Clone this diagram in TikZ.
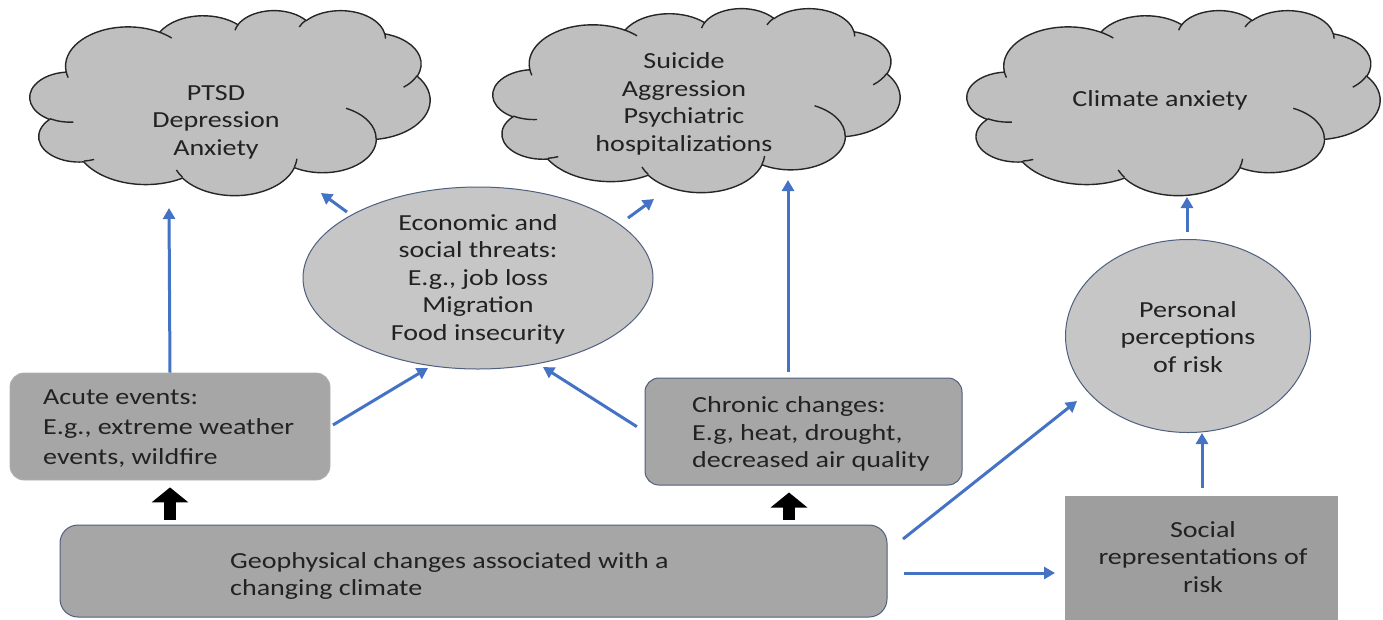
\documentclass[tikz,border=0pt]{standalone}
\usepackage{fontspec}
\setmainfont{Carlito}[FakeStretch=1.22]
\usetikzlibrary{shapes.geometric,arrows.meta}
\definecolor{cloudfill}{HTML}{BFBFBF}
\definecolor{ellfill}{HTML}{C6C6C6}
\definecolor{boxfill}{HTML}{A6A6A6}
\definecolor{edgeblue}{HTML}{4F5F7F}
\definecolor{arrowblue}{HTML}{4472C4}
\definecolor{txtcol}{HTML}{222222}
\tikzset{carc/.style n args={4}{insert path={arc[start angle={atan2(#1*sin(#3),#2*cos(#3))},
  delta angle={mod(atan2(#1*sin(#3+#4),#2*cos(#3+#4))-atan2(#1*sin(#3),#2*cos(#3))+720,360)},
  x radius=#1, y radius=#2]}}}
\newcommand\drawcloudshape[4]{%
\begin{scope}[shift={(#1,#2)},xscale=#3,yscale=#4]
 \draw[cloudline,fill=cloudfill] (39.00,143.70)
  [carc={67.53}{91.90}{-190.4875}{123.7805}]
  [carc={53.33}{72.67}{-144.1024}{89.9452}]
  [carc={43.65}{59.45}{-145.8079}{99.7230}]
  [carc={48.57}{65.95}{-130.9861}{117.2417}]
  [carc={53.33}{72.73}{-78.7089}{109.0269}]
  [carc={67.75}{92.20}{-46.2673}{130.2690}]
  [carc={57.85}{78.67}{0.6250}{114.0333}]
  [carc={67.52}{92.15}{22.4516}{115.1726}]
  [carc={77.20}{105.43}{66.2426}{75.7110}]
  [carc={43.60}{59.18}{-274.9421}{146.7356}]
  [carc={43.45}{59.45}{-246.8285}{152.5189}] -- cycle;
 \draw[cloudline]
  (46.93,261.77) [carc={43.45}{59.45}{86.7420}{26.4295}]
  (69.28,348.99) [carc={43.60}{59.18}{73.6105}{11.4475}]
  (164.78,390.90) [carc={67.52}{92.15}{137.6242}{14.0811}]
  (288.27,347.51) [carc={67.52}{92.15}{6.4533}{15.9984}]
  (341.29,229.54) [carc={57.85}{78.67}{-70.2924}{70.9174}]
  (417.98,153.54) [carc={53.33}{72.73}{30.3180}{27.7515}]
  (383.24,54.26) [carc={48.57}{65.95}{-13.7443}{14.8589}]
  (290.78,39.52) [carc={48.57}{65.95}{-149.1815}{18.1954}]
  (221.41,47.20) [carc={43.65}{59.45}{-163.4943}{17.6864}]
  (140.00,51.92) [carc={67.53}{91.90}{-66.7070}{12.3194}]
  (41.27,157.89) [carc={67.53}{91.90}{157.6544}{11.8582}];
\end{scope}}
\begin{document}
\begin{tikzpicture}[x=1pt,y=-1pt,
  font=\fontsize{23}{27.5}\selectfont,
  txt/.style={text=txtcol,align=center,inner sep=0pt},
  ltxt/.style={text=txtcol,align=left,inner sep=0pt,anchor=west},
  cloudline/.style={draw=black!85,line width=1.4pt},
  ellnode/.style={ellipse,draw=edgeblue,line width=1pt,fill=ellfill,inner sep=0pt},
  boxnode/.style={rectangle,fill=boxfill,inner sep=0pt},
  bl/.style={draw=arrowblue,line width=3pt,-{Triangle[length=11pt,width=12pt]}},
  blk/.style={draw=black,line width=12pt,-{Triangle[length=15pt,width=36pt]}}]
\useasboundingbox (0,0) rectangle (1383,619);

% clouds (PowerPoint cloud outline, 432 x 432 units scaled to each cloud)
\drawcloudshape{30}{10}{0.9259}{0.4282}
\node[txt] (cloud1) at (216,122) {PTSD\\Depression\\Anxiety};
\drawcloudshape{493}{8}{0.9421}{0.4259}
\node[txt] (cloud2) at (684,104) {Suicide\\Aggression\\Psychiatric\\hospitalizations};
\drawcloudshape{967}{10}{0.9560}{0.4282}
\node[txt] (cloud3) at (1160,100) {Climate anxiety};

% ellipses
\node[ellnode,minimum width=350pt,minimum height=182pt] (econ) at (478,278) {};
\node[txt] (econt) at (478,279) {Economic and\\social threats:\\E.g., job loss\\Migration\\Food insecurity};
\node[ellnode,minimum width=245pt,minimum height=193pt] (pers) at (1188,336) {};
\node[txt] (perst) at (1188,337) {Personal\\perceptions\\of risk};

% boxes
\node[boxnode,rounded corners=14pt,draw=boxfill!90,line width=0.8pt,minimum width=320pt,minimum height=107pt] (acute) at (170,426.5) {};
\node[ltxt,font=\fontsize{23}{30}\selectfont] (acutet) at (43,429) {Acute events:\\E.g., extreme weather\\events, wildfire};
\node[boxnode,rounded corners=14pt,draw=edgeblue,line width=1pt,minimum width=317pt,minimum height=107pt] (chron) at (803.5,431.5) {};
\node[ltxt] (chront) at (692,434) {Chronic changes:\\E.g, heat, drought,\\decreased air quality};
\node[boxnode,rounded corners=18pt,draw=edgeblue,line width=1pt,minimum width=827pt,minimum height=92pt] (geo) at (473.5,571) {};
\node[ltxt] (geot) at (230,576) {Geophysical changes associated with a\\changing climate};
\node[boxnode,fill=boxfill!95!black,minimum width=273pt,minimum height=125pt] (soc) at (1201.5,558.5) {};
\node[txt] (soct) at (1203,557) {Social\\representations of\\risk};

% free ends
\coordinate (t1) at (169,208);
\coordinate (s2) at (347,212);
\coordinate (t2) at (321,193);
\coordinate (s3) at (628,218);
\coordinate (t3) at (654,199);
\coordinate (t4) at (428,368);
\coordinate (t5) at (543,367);
\coordinate (t6) at (788,180);
\coordinate (s7) at (903,539);
\coordinate (t7) at (1077,401);
\coordinate (t8) at (1055,573);
\coordinate (t9) at (1202,433);
\coordinate (s10) at (1187,232);
\coordinate (t10) at (1187,197);

% connectors
\draw[bl] (acute.north) -- (t1);
\draw[bl] (s2) -- (t2);
\draw[bl] (s3) -- (t3);
\draw[bl,shorten <=3pt] (acute.east) -- (t4);
\draw[bl,shorten <=9pt] (chron.west) -- (t5);
\draw[bl,shorten <=6pt] (chron.north -| 788,0) -- (t6);
\draw[bl] (s7) -- (t7);
\draw[bl,shorten <=16pt] (geo.east |- 0,573) -- (t8);
\draw[bl,shorten <=8pt] (soc.north -| 1202,0) -- (t9);
\draw[bl] (s10) -- (t10);

% block arrows
\draw[blk,shorten <=5pt,shorten >=7pt] (geo.north -| acute.south) -- (acute.south);
\draw[blk,shorten <=5pt,shorten >=7pt] (geo.north -| 789,0) -- (chron.south -| 789,0);
\end{tikzpicture}
\end{document}
